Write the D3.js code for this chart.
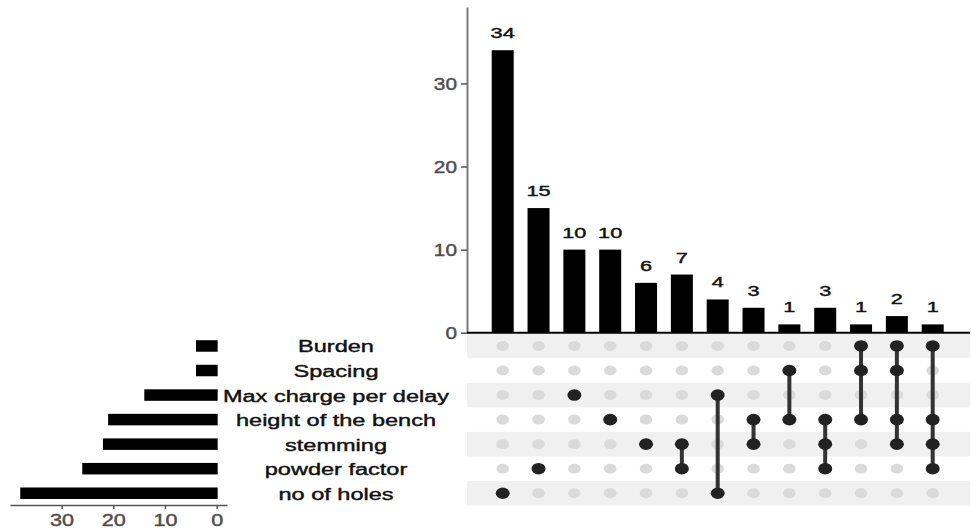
<!DOCTYPE html>
<html>
<head>
<meta charset="utf-8">
<script src="https://cdn.jsdelivr.net/npm/d3@7"></script>
<style>
  body { margin: 0; background: #fff; }
  svg { display: block; font-family: "Liberation Sans", Arial, sans-serif; }
  svg text { stroke-width: 0.4px; }
</style>
</head>
<body>
<div class="canvas"></div>
<script>
// sets, top to bottom in the matrix
const setNames = ["Burden", "Spacing", "Max charge per delay", "height of the bench", "stemming", "powder factor", "no of holes"];
const setSizes = [4, 4, 14, 21, 22, 26, 38];

// intersections, left to right
const counts = [34, 15, 10, 10, 6, 7, 4, 3, 1, 3, 1, 2, 1];
const members = [
  ["no of holes"],
  ["powder factor"],
  ["Max charge per delay"],
  ["height of the bench"],
  ["stemming"],
  ["stemming", "powder factor"],
  ["Max charge per delay", "no of holes"],
  ["height of the bench", "stemming"],
  ["Spacing", "height of the bench"],
  ["height of the bench", "stemming", "powder factor"],
  ["Burden", "Spacing", "height of the bench"],
  ["Burden", "Spacing", "height of the bench", "stemming"],
  ["Burden", "height of the bench", "stemming", "powder factor"]
];

const barTicks = [0, 10, 20, 30];
const setTicks = [0, 10, 20, 30];

const stretch = 1.45; // the picture is wider than tall, text too

const svg = d3.select('.canvas')
  .append('svg')
  .attr('width', 971)
  .attr('height', 528);

const xCol = d3.scalePoint()
  .domain(d3.range(counts.length))
  .range([502.7, 932.7]);

const yRow = d3.scaleBand()
  .domain(setNames)
  .range([333.7, 505.5]);

const yBar = d3.scaleLinear()
  .domain([0, 39.2])
  .range([332.7, 7]);

const xSet = d3.scaleLinear()
  .domain([-2, 40])
  .range([227, 9.9]);

// matrix stripes
svg.append('g')
  .selectAll('rect')
  .data(setNames.filter((d, i) => i % 2 === 0))
  .join('rect')
  .attr('x', 467)
  .attr('y', d => yRow(d))
  .attr('width', 503)
  .attr('height', yRow.bandwidth())
  .attr('fill', '#f0f0f0');

// intersection bars
const barW = 22;
svg.append('g')
  .selectAll('rect')
  .data(counts)
  .join('rect')
  .attr('x', (d, i) => xCol(i) - barW / 2)
  .attr('y', d => yBar(d))
  .attr('width', barW)
  .attr('height', d => yBar(0) - yBar(d))
  .attr('fill', '#000');

svg.append('g')
  .selectAll('text')
  .data(counts)
  .join('text')
  .attr('transform', (d, i) => `translate(${xCol(i)},${yBar(d) - 12}) scale(${stretch},1)`)
  .attr('text-anchor', 'middle')
  .attr('font-size', 15)
  .attr('fill', '#111')
  .attr('stroke', '#111')
  .text(d => d);

// y axis of intersection bars
const yAxis = svg.append('g')
  .attr('transform', 'translate(467,0)')
  .call(d3.axisLeft(yBar).tickValues(barTicks).tickSize(6).tickSizeOuter(0).tickPadding(4));
yAxis.select('.domain').attr('stroke', '#7a7a7a').attr('stroke-width', 2);
yAxis.selectAll('.tick line').attr('stroke', '#555').attr('stroke-width', 1.5);
yAxis.selectAll('.tick text')
  .attr('font-size', 16)
  .attr('fill', '#4d4d4d')
  .attr('stroke', '#4d4d4d')
  .attr('x', 0)
  .attr('dy', '0.35em')
  .attr('transform', `translate(-10,0) scale(1.3,1)`);

// baseline
svg.append('line')
  .attr('x1', 467).attr('x2', 970)
  .attr('y1', yBar(0)).attr('y2', yBar(0))
  .attr('stroke', '#000')
  .attr('stroke-width', 2);

// matrix: grey dots
const cells = [];
counts.forEach((c, i) => setNames.forEach(s => cells.push({ col: i, set: s, on: members[i].includes(s) })));

svg.append('g')
  .selectAll('ellipse')
  .data(cells.filter(d => !d.on))
  .join('ellipse')
  .attr('cx', d => xCol(d.col))
  .attr('cy', d => yRow(d.set) + yRow.bandwidth() / 2)
  .attr('rx', 6.3)
  .attr('ry', 5)
  .attr('fill', '#dadada');

// matrix: connecting lines
svg.append('g')
  .selectAll('line')
  .data(members.map((m, i) => ({ col: i, ys: m.map(s => yRow(s) + yRow.bandwidth() / 2) })).filter(d => d.ys.length > 1))
  .join('line')
  .attr('x1', d => xCol(d.col))
  .attr('x2', d => xCol(d.col))
  .attr('y1', d => d3.min(d.ys))
  .attr('y2', d => d3.max(d.ys))
  .attr('stroke', '#333')
  .attr('stroke-width', 4);

// matrix: black dots
svg.append('g')
  .selectAll('ellipse')
  .data(cells.filter(d => d.on))
  .join('ellipse')
  .attr('cx', d => xCol(d.col))
  .attr('cy', d => yRow(d.set) + yRow.bandwidth() / 2)
  .attr('rx', 7)
  .attr('ry', 5.8)
  .attr('fill', '#222');

// set size bars
const setBarH = 11.5;
svg.append('g')
  .selectAll('rect')
  .data(setSizes)
  .join('rect')
  .attr('x', d => xSet(d))
  .attr('y', (d, i) => yRow(setNames[i]) + yRow.bandwidth() / 2 - setBarH / 2)
  .attr('width', d => xSet(0) - xSet(d) + 1)
  .attr('height', setBarH)
  .attr('fill', '#000');

// set names
svg.append('g')
  .selectAll('text')
  .data(setNames)
  .join('text')
  .attr('transform', d => `translate(336,${yRow(d) + yRow.bandwidth() / 2 + 6.5}) scale(1.47,1)`)
  .attr('text-anchor', 'middle')
  .attr('font-size', 16)
  .attr('fill', '#111')
  .attr('stroke', '#111')
  .text(d => d);

// set size axis
const xAxis = svg.append('g')
  .attr('transform', 'translate(0,505)')
  .call(d3.axisBottom(xSet).tickValues(setTicks).tickSize(4).tickSizeOuter(0).tickPadding(3));
xAxis.select('.domain').attr('stroke', '#555').attr('stroke-width', 1.5);
xAxis.selectAll('.tick line').attr('stroke', '#555').attr('stroke-width', 1.5);
xAxis.selectAll('.tick text')
  .attr('font-size', 16)
  .attr('fill', '#4d4d4d')
  .attr('stroke', '#4d4d4d')
  .attr('y', 0)
  .attr('dy', 0)
  .attr('transform', 'translate(0,20.5) scale(1.35,1)');
</script>
</body>
</html>
